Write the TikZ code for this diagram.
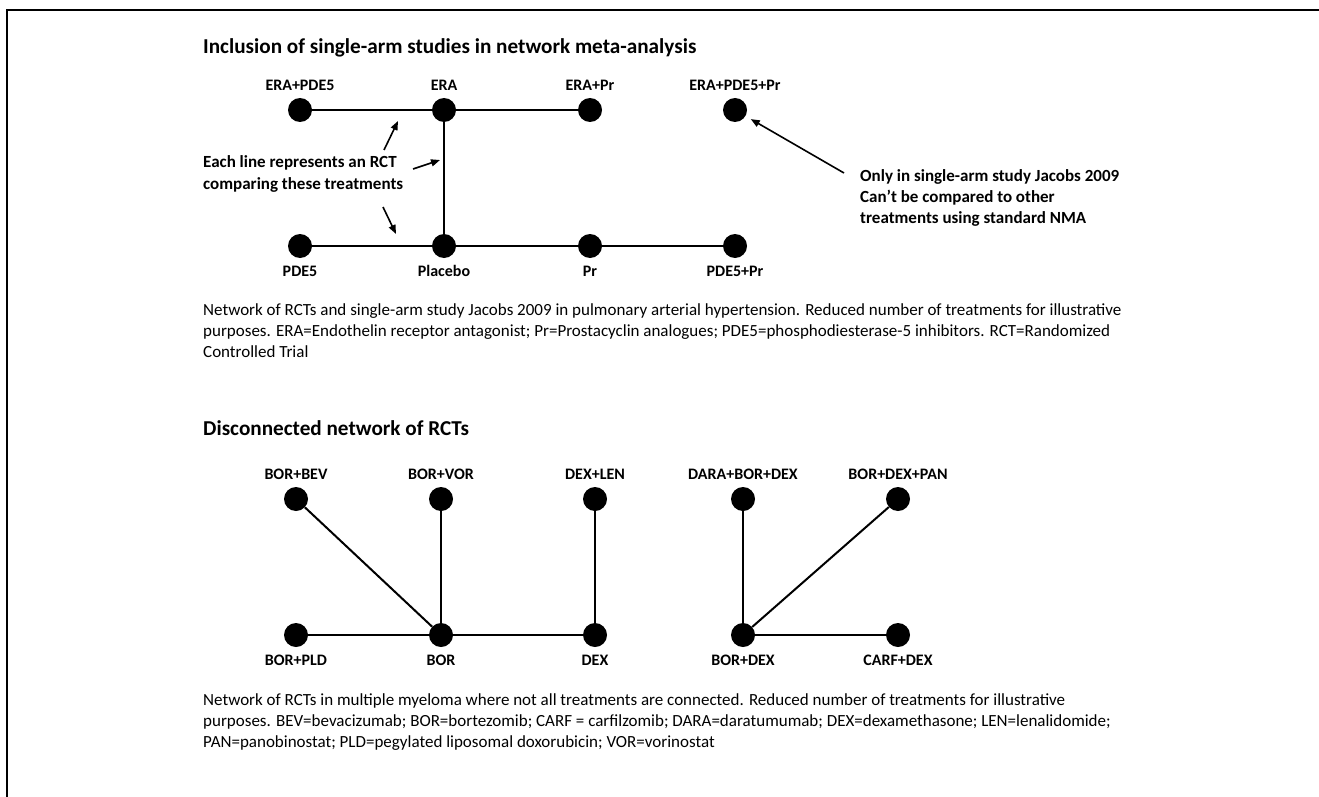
\documentclass[tikz,border=0pt]{standalone}
\usepackage{fontspec}
\setmainfont{Carlito}
\usetikzlibrary{positioning}
\usetikzlibrary{arrows.meta}
\tikzstyle{dot}=[circle, fill=black, minimum size=24pt, inner sep=0pt]
\tikzstyle{lbl}=[inner sep=0pt, text height=11pt, text depth=0pt, font=\bfseries\fontsize{16}{19}\selectfont]
\tikzstyle{trial}=[line width=2pt]
\tikzstyle{pointer}=[line width=1.6pt, -{Triangle[length=9pt,width=7pt]}]
\tikzstyle{heading}=[anchor=base west, inner sep=0pt, font=\bfseries\fontsize{21.2}{25}\selectfont]
\tikzstyle{note}=[anchor=base west, inner sep=0pt, align=left, font=\bfseries\fontsize{17}{21}\selectfont]
\tikzstyle{caption}=[anchor=north west, inner sep=0pt, align=left, font=\fontsize{17}{21}\selectfont]

\begin{document}
\begin{tikzpicture}[x=1pt, y=-1pt]
    \useasboundingbox (0,0) rectangle (1319,797);
    \draw[line width=2.5pt] (7,797) -- (7,10) -- (1319,10);

    % pulmonary arterial hypertension
    \node[heading] (titlepah) at (203,54) {Inclusion of single-arm studies in network meta-analysis};
    \node[dot] (erapde5) at (300,110) {};
    \node[dot] (era) at (444,110) {};
    \node[dot] (erapr) at (590,110) {};
    \node[dot] (erapde5pr) at (735,110) {};
    \node[dot] (pde5) at (300,246) {};
    \node[dot] (placebo) at (444,246) {};
    \node[dot] (pr) at (590,246) {};
    \node[dot] (pde5pr) at (735,246) {};
    \node[lbl, above=7pt of erapde5] (erapde5L) {ERA+PDE5};
    \node[lbl, above=7pt of era] (eraL) {ERA};
    \node[lbl, above=7pt of erapr] (eraprL) {ERA+Pr};
    \node[lbl, above=7pt of erapde5pr] (erapde5prL) {ERA+PDE5+Pr};
    \node[lbl, below=7pt of pde5] (pde5L) {PDE5};
    \node[lbl, below=7pt of placebo] (placeboL) {Placebo};
    \node[lbl, below=7pt of pr] (prL) {Pr};
    \node[lbl, below=7pt of pde5pr] (pde5prL) {PDE5+Pr};
    \draw[trial] (erapde5) -- (era);
    \draw[trial] (era) -- (erapr);
    \draw[trial] (era) -- (placebo);
    \draw[trial] (pde5) -- (placebo);
    \draw[trial] (placebo) -- (pr);
    \draw[trial] (pr) -- (pde5pr);

    % base anchor sits on the last line
    \node[note] (rctnote) at (203,189) {Each line represents an RCT\\comparing these treatments};
    \coordinate (up1) at (384,150);
    \coordinate (up2) at (398,121);
    \coordinate (mid1) at (413,169);
    \coordinate (mid2) at (440,160);
    \coordinate (low1) at (383,207);
    \coordinate (low2) at (396,234);
    \draw[pointer] (up1) -- (up2);
    \draw[pointer] (mid1) -- (mid2);
    \draw[pointer] (low1) -- (low2);

    \node[note] (singlenote) at (860,223) {Only in single-arm study Jacobs 2009\\Can’t be compared to other\\treatments using standard NMA};
    \coordinate (single1) at (844,173);
    \draw[pointer, shorten >=6pt] (single1) -- (erapde5pr);

    \node[caption] (captionpah) at (203,303) {Network of RCTs and single-arm study Jacobs 2009 in pulmonary arterial hypertension.  Reduced  number of treatments for illustrative\\
    purposes. ERA=Endothelin  receptor  antagonist; Pr=Prostacyclin analogues; PDE5=phosphodiesterase-5  inhibitors. RCT=Randomized\\
    Controlled Trial};

    % multiple myeloma
    \node[heading] (titlemm) at (203,435) {Disconnected network of RCTs};
    \node[dot] (borbev) at (296,499) {};
    \node[dot] (borvor) at (441,499) {};
    \node[dot] (dexlen) at (595,499) {};
    \node[dot] (daraborDex) at (743,499) {};
    \node[dot] (bordexpan) at (898,499) {};
    \node[dot] (borpld) at (296,635) {};
    \node[dot] (bor) at (441,635) {};
    \node[dot] (dex) at (595,635) {};
    \node[dot] (bordex) at (743,635) {};
    \node[dot] (carfdex) at (898,635) {};
    \node[lbl, above=7pt of borbev] (borbevL) {BOR+BEV};
    \node[lbl, above=7pt of borvor] (borvorL) {BOR+VOR};
    \node[lbl, above=7pt of dexlen] (dexlenL) {DEX+LEN};
    \node[lbl, above=7pt of daraborDex] (daraborDexL) {DARA+BOR+DEX};
    \node[lbl, above=7pt of bordexpan] (bordexpanL) {BOR+DEX+PAN};
    \node[lbl, below=7pt of borpld] (borpldL) {BOR+PLD};
    \node[lbl, below=7pt of bor] (borL) {BOR};
    \node[lbl, below=7pt of dex] (dexL) {DEX};
    \node[lbl, below=7pt of bordex] (bordexL) {BOR+DEX};
    \node[lbl, below=7pt of carfdex] (carfdexL) {CARF+DEX};
    \draw[trial] (borbev) -- (bor);
    \draw[trial] (borvor) -- (bor);
    \draw[trial] (borpld) -- (bor);
    \draw[trial] (bor) -- (dex);
    \draw[trial] (dexlen) -- (dex);
    \draw[trial] (daraborDex) -- (bordex);
    \draw[trial] (bordexpan) -- (bordex);
    \draw[trial] (bordex) -- (carfdex);

    \node[caption] (captionmm) at (203,693) {Network of RCTs in multiple myeloma where not all treatments are connected.  Reduced number of treatments for illustrative\\
    purposes. BEV=bevacizumab; BOR=bortezomib; CARF = carfilzomib; DARA=daratumumab; DEX=dexamethasone; LEN=lenalidomide;\\
    PAN=panobinostat; PLD=pegylated liposomal doxorubicin; VOR=vorinostat};
\end{tikzpicture}
\end{document}
